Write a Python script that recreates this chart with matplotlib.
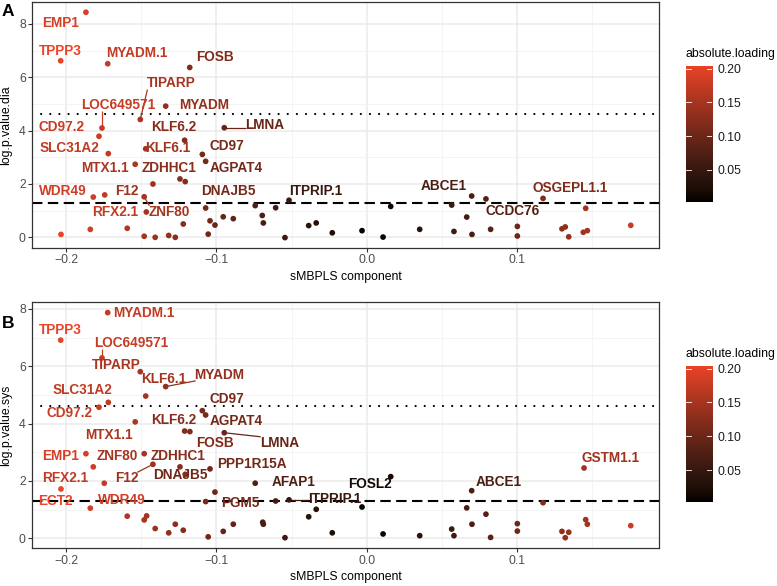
import numpy as np
import matplotlib
matplotlib.use("Agg")
import matplotlib.pyplot as plt
from matplotlib.colors import ListedColormap, Normalize

plt.rcParams['font.family'] = ['Liberation Sans', 'DejaVu Sans']

# ---------------- data ----------------
# Panel A (log.p.value.dia)
xA = [-0.1869, -0.2037, -0.1724, -0.1178, -0.1338, -0.1507, -0.1762, -0.1782, -0.1720, -0.1212,
      -0.1471, -0.1094, -0.1072, -0.1541, -0.1243, -0.1208, -0.0948, -0.1423, -0.1820, -0.1744,
      -0.1481, -0.1467, -0.1072, -0.0742, -0.2035, -0.1840, -0.1594, -0.1481, -0.1408, -0.1318,
      -0.1274, -0.1221, -0.1055, -0.1043, -0.1010, -0.0955, -0.0888, -0.0695, -0.0688, -0.0606,
      -0.0544, -0.0517, -0.0386, -0.0336, -0.0229, -0.0031, 0.0109, 0.0160, 0.0353, 0.0566,
      0.0581, 0.0666, 0.0699, 0.0701, 0.0794, 0.0825, 0.1003, 0.1003, 0.1174, 0.1300,
      0.1322, 0.1345, 0.1458, 0.1442, 0.1469, 0.1758]
yA = [8.44, 6.62, 6.51, 6.37, 4.92, 4.42, 4.10, 3.79, 3.14, 3.64,
      3.32, 3.11, 2.85, 2.74, 2.19, 2.09, 4.11, 2.00, 1.51, 1.59,
      1.52, 0.95, 1.10, 1.19, 0.11, 0.30, 0.34, 0.04, 0.00, 0.07,
      0.00, 0.50, 0.12, 0.62, 0.46, 0.77, 0.70, 0.82, 0.54, 1.11,
      -0.01, 1.39, 0.44, 0.54, 0.17, 0.25, 0.01, 1.16, 0.30, 1.21,
      0.22, 0.76, 1.55, 0.11, 1.44, 0.30, 0.41, 0.05, 1.46, 0.32,
      0.39, 0.02, 1.09, 0.19, 0.25, 0.45]
# labels: name, point index, label x, label y, segment
labA_names = ['EMP1', 'TPPP3', 'MYADM.1', 'FOSB', 'TIPARP', 'MYADM', 'LOC649571', 'CD97.2',
              'KLF6.2', 'LMNA', 'SLC31A2', 'KLF6.1', 'CD97', 'MTX1.1', 'ZDHHC1', 'AGPAT4',
              'WDR49', 'F12', 'DNAJB5', 'RFX2.1', 'ZNF80', 'ITPRIP.1', 'ABCE1', 'CCDC76', 'OSGEPL1.1']
labA_idx = [0, 1, 2, 3, 5, 4, 6, 7, 9, 16, 8, 10, 11, 13, 14, 12, 18, 17, 22, 19, 20, 41, 52, 54, 58]
labA_x = [-0.2036, -0.2042, -0.1531, -0.1010, -0.1304, -0.1080, -0.1657, -0.2031,
          -0.1284, -0.0677, -0.1982, -0.1321, -0.0930, -0.1744, -0.1316, -0.0866,
          -0.2022, -0.1598, -0.0920, -0.1672, -0.1316, -0.0336, 0.0513, 0.0973, 0.1354]
labA_y = [8.02, 7.00, 6.90, 6.75, 5.77, 4.96, 4.96, 4.15,
          4.15, 4.21, 3.36, 3.36, 3.43, 2.59, 2.59, 2.59,
          1.75, 1.75, 1.75, 0.96, 0.96, 1.75, 1.94, 1.00, 1.86]
labA_seg = ['TIPARP', 'LOC649571', 'LMNA', 'KLF6.1', 'ZNF80']

# Panel B (log.p.value.sys)
xB = [-0.1724, -0.2037, -0.1762, -0.1507, -0.1338, -0.1471, -0.1720, -0.1782, -0.1094, -0.1072,
      -0.1541, -0.1212, -0.1177, -0.0948, -0.1869, -0.1481, -0.1243, -0.1208, -0.1423, -0.1043,
      -0.1820, -0.1747, -0.1010, -0.0742, -0.2035, -0.1840, -0.1072, -0.1594, -0.1481, -0.1465,
      -0.1408, -0.1318, -0.1274, -0.1221, -0.1055, -0.0955, -0.0888, -0.0692, -0.0688, -0.0606,
      -0.0544, -0.0517, -0.0386, -0.0336, -0.0229, -0.0031, 0.0109, 0.0160, 0.0353, 0.0566,
      0.0581, 0.0666, 0.0699, 0.0701, 0.0794, 0.0825, 0.1003, 0.1003, 0.1174, 0.1300,
      0.1322, 0.1345, 0.1447, 0.1458, 0.1469, 0.1758]
yB = [7.87, 6.91, 6.29, 5.81, 5.29, 4.96, 4.74, 4.57, 4.45, 4.30,
      4.06, 3.74, 3.72, 3.68, 2.95, 2.95, 2.49, 2.23, 2.58, 2.42,
      2.49, 1.92, 1.61, 1.92, 1.72, 1.05, 1.28, 0.77, 0.64, 0.78,
      0.34, 0.19, 0.49, 0.28, 0.05, 0.24, 0.49, 0.56, 0.49, 1.30,
      0.02, 1.34, 0.75, 1.01, 0.19, 1.09, 0.15, 2.15, 0.09, 0.32,
      0.09, 1.06, 1.66, 0.49, 0.84, 0.03, 0.51, 0.25, 1.24, 0.24,
      0.02, 0.21, 2.45, 0.65, 0.49, 0.44]
labB_names = ['MYADM.1', 'TPPP3', 'LOC649571', 'TIPARP', 'MYADM', 'KLF6.1', 'SLC31A2', 'CD97',
              'CD97.2', 'KLF6.2', 'AGPAT4', 'MTX1.1', 'FOSB', 'LMNA', 'EMP1', 'ZNF80', 'ZDHHC1',
              'PPP1R15A', 'RFX2.1', 'F12', 'DNAJB5', 'AFAP1', 'FOSL2', 'ECT2', 'WDR49', 'PGM5',
              'ITPRIP.1', 'ABCE1', 'GSTM1.1']
labB_idx = [0, 1, 2, 3, 4, 5, 6, 8, 7, 11, 9, 10, 12, 13, 14, 15, 16,
            19, 21, 18, 22, 23, 47, 24, 25, 26, 41, 52, 62]
labB_x = [-0.1481, -0.2039, -0.1564, -0.1664, -0.0979, -0.1350, -0.1892, -0.0930,
          -0.1977, -0.1284, -0.0866, -0.1717, -0.1013, -0.0582, -0.2036, -0.1659, -0.1256,
          -0.0762, -0.2005, -0.1598, -0.1240, -0.0484, 0.0025, -0.2070, -0.1631, -0.0840,
          -0.0213, 0.0881, 0.1623]
labB_y = [7.87, 7.27, 6.80, 6.04, 5.70, 5.55, 5.17, 4.86,
          4.36, 4.13, 4.09, 3.60, 3.33, 3.33, 2.88, 2.88, 2.88,
          2.60, 2.09, 2.09, 2.21, 1.97, 1.88, 1.30, 1.34, 1.24,
          1.36, 1.96, 2.81]
labB_seg = ['LOC649571', 'MYADM', 'LMNA', 'F12', 'ITPRIP.1']

sig_line = 1.301   # -log10(0.05)
strict_line = 4.61

x_ticks = [-0.2, -0.1, 0.0, 0.1]
cbar_ticks = [0.05, 0.10, 0.15, 0.20]

# ---------------- colour scale (Lab interpolation black -> red) ----------------
def _lin(c):
    c = np.asarray(c, float)
    return np.where(c <= 0.04045, c / 12.92, ((c + 0.055) / 1.055) ** 2.4)

def _gam(c):
    c = np.clip(c, 0, 1)
    return np.where(c <= 0.0031308, 12.92 * c, 1.055 * c ** (1 / 2.4) - 0.055)

_M = np.array([[0.4124, 0.3576, 0.1805], [0.2126, 0.7152, 0.0722], [0.0193, 0.1192, 0.9505]])
_W = np.array([0.95047, 1.0, 1.08883])

def rgb2lab(rgb):
    xyz = _M @ _lin(rgb) / _W
    d = 6 / 29
    f = np.where(xyz > d ** 3, np.cbrt(xyz), xyz / (3 * d * d) + 4 / 29)
    return np.array([116 * f[1] - 16, 500 * (f[0] - f[1]), 200 * (f[1] - f[2])])

def lab2rgb(lab):
    L, a, b = lab
    fy = (L + 16) / 116
    fx = fy + a / 500
    fz = fy - b / 200
    d = 6 / 29
    f = np.array([fx, fy, fz])
    xyz = np.where(f > d, f ** 3, 3 * d * d * (f - 4 / 29)) * _W
    return _gam(np.linalg.solve(_M, xyz))

high = np.array([233, 67, 40]) / 255.0
lab_lo, lab_hi = rgb2lab(np.zeros(3)), rgb2lab(high)
cols = [lab2rgb(lab_lo + t * (lab_hi - lab_lo)) for t in np.linspace(0, 1, 256)]
cmap = ListedColormap(cols)

# ---------------- figure ----------------
W, H = 777, 586
fig = plt.figure(figsize=(W / 100, H / 100), dpi=100)

def fr(x0, y0, x1, y1):
    return [x0 / W, 1 - y1 / H, (x1 - x0) / W, (y1 - y0) / H]

panels = [
    dict(x=xA, y=yA, names=labA_names, idx=labA_idx, lx=labA_x, ly=labA_y, seg=labA_seg,
         rect=fr(32, 2, 659, 248), ylim=(-0.40, 8.825), ylab='log.p.value.dia', letter='A',
         letter_y=12, cax=fr(685.7, 66, 712.3, 201.7), title_y=54.5),
    dict(x=xB, y=yB, names=labB_names, idx=labB_idx, lx=labB_x, ly=labB_y, seg=labB_seg,
         rect=fr(32, 302.3, 659, 548.3), ylim=(-0.35, 8.23), ylab='log.p.value.sys', letter='B',
         letter_y=323, cax=fr(685.7, 366, 712.3, 502), title_y=354.5),
]

texts_to_seg = []
for P in panels:
    ax = fig.add_axes(P['rect'])
    x = np.array(P['x']); y = np.array(P['y'])
    ab = np.abs(x)
    norm = Normalize(vmin=ab.min(), vmax=ab.max())
    ax.set_xlim(-0.2228, 0.1946)
    ax.set_ylim(*P['ylim'])
    ax.set_xticks(x_ticks)
    ax.set_xticks([-0.15, -0.05, 0.05, 0.15], minor=True)
    ax.set_yticks([0, 2, 4, 6, 8])
    ax.set_yticks([1, 3, 5, 7], minor=True)
    ax.grid(True, which='major', color='#EBEBEB', lw=1.1, zorder=0)
    ax.grid(True, which='minor', color='#F2F2F2', lw=0.6, zorder=0)
    ax.set_axisbelow(True)
    for s in ax.spines.values():
        s.set_color('#333333'); s.set_linewidth(0.9)
    ax.tick_params(which='major', length=2.7, width=0.8, color='#333333',
                   labelsize=8.8, labelcolor='#4D4D4D', pad=1.8)
    ax.tick_params(which='minor', length=0)

    ax.axhline(sig_line, color='black', lw=1.5, ls=(0, (5, 2.6)), zorder=2)
    ax.axhline(strict_line, color='black', lw=1.6, ls=(0, (0.01, 4.1)),
               dash_capstyle='round', zorder=2)

    ax.scatter(x, y, c=ab, cmap=cmap, norm=norm, s=17, linewidths=0, zorder=3)

    for name, i, lx, ly in zip(P['names'], P['idx'], P['lx'], P['ly']):
        c = cmap(norm(ab[i]))
        t = ax.text(lx, ly, name, color=c, fontsize=9.8, fontweight='bold',
                    ha='center', va='center', zorder=5)
        if name in P['seg']:
            texts_to_seg.append((ax, t, x[i], y[i], c))

    ax.set_xlabel('sMBPLS component', fontsize=8.8)
    ax.xaxis.label.set_va('center')
    ax.xaxis.set_label_coords(0.5, -(277 - 248) / 246)
    ax.set_ylabel(P['ylab'], fontsize=8.8)
    ax.yaxis.label.set_va('center')
    ax.yaxis.set_label_coords(-(32 - 6.5) / 627, 0.5)

    fig.text(2 / W, 1 - P['letter_y'] / H,
             P['letter'], fontsize=12.5, fontweight='bold', ha='left', va='center')

    # colour bar
    cax = fig.add_axes(P['cax'])
    grad = np.linspace(norm.vmin, norm.vmax, 300).reshape(-1, 1)
    cax.imshow(grad, cmap=cmap, norm=norm, aspect='auto', origin='lower',
               extent=[0, 1, norm.vmin, norm.vmax])
    cax.set_xlim(0, 1); cax.set_ylim(norm.vmin, norm.vmax)
    for s in cax.spines.values():
        s.set_visible(False)
    cax.set_xticks([])
    cax.yaxis.tick_right()
    cax.set_yticks(cbar_ticks)
    cax.set_yticklabels(['%.2f' % v for v in cbar_ticks])
    cax.tick_params(axis='y', length=0, pad=4, labelsize=8.8, labelcolor='#1A1A1A')
    for v in cbar_ticks:
        cax.plot([0, 0.2], [v, v], color='white', lw=0.6)
        cax.plot([0.8, 1], [v, v], color='white', lw=0.6)
    fig.text(685.7 / W, 1 - P['title_y'] / H, 'absolute.loading', fontsize=8.8,
             ha='left', va='center')

# segments from points to label boxes (ggrepel style)
fig.canvas.draw()
r = fig.canvas.get_renderer()
for ax, t, px, py, c in texts_to_seg:
    bb = t.get_window_extent(r)
    pd = ax.transData.transform((px, py))
    cx = min(max(pd[0], bb.x0 + 1), bb.x1 - 1)
    cy = min(max(pd[1], bb.y0 + 1), bb.y1 - 1)
    end = ax.transData.inverted().transform((cx, cy))
    ax.plot([px, end[0]], [py, end[1]], color=c, lw=0.9, zorder=4, solid_capstyle='butt')

fig.savefig('out.png', dpi=100)
